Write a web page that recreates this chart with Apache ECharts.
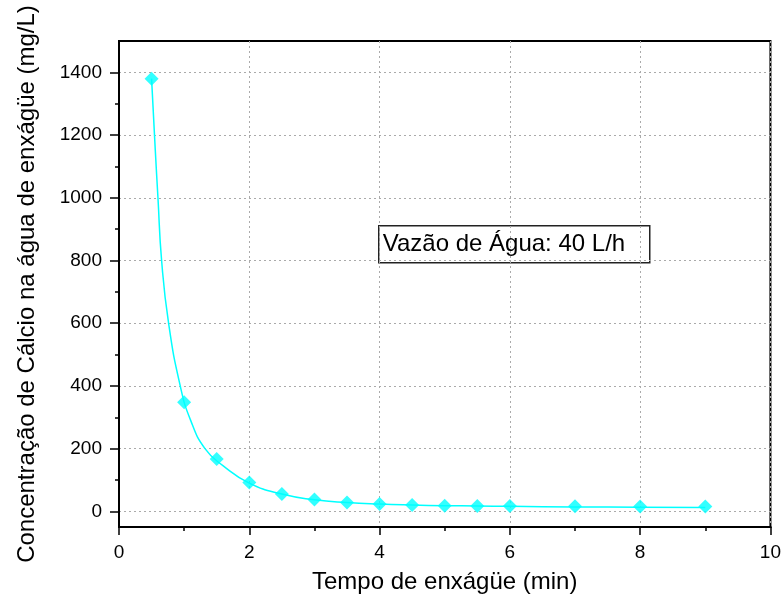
<!DOCTYPE html>
<html>
<head>
<meta charset="utf-8">
<script src="https://cdn.jsdelivr.net/npm/echarts@6/dist/echarts.min.js"></script>
<style>html,body{margin:0;padding:0;background:#fff;}#c{width:784px;height:606px;}</style>
</head>
<body>
<div id="c"></div>
<script>
// Measured points
const timeMin = [0.5, 1, 1.5, 2, 2.5, 3, 3.5, 4, 4.5, 5, 5.5, 6, 7, 8, 9];
const calcium = [1380, 348, 167, 92, 55, 38, 28, 23, 20, 18, 17, 17, 16, 15, 15];
// Fitted curve, points
const fitX = [0.5, 0.557, 0.598, 0.654, 0.761, 0.94, 1.1, 1.32, 1.6, 2, 2.5, 3, 3.5, 4, 4.5, 5, 5.5, 6, 7, 8, 9];
const fitY = [1380, 1152, 1000, 800, 600, 400, 290, 200, 145, 90, 55, 37, 28, 23, 20, 18, 17, 16, 14, 13, 12];
// Tick values
const yMajor = [0, 200, 400, 600, 800, 1000, 1200, 1400];
const yMinor = [100, 300, 500, 700, 900, 1100, 1300];
const xMajor = [0, 2, 4, 6, 8, 10];
const xMinor = [1, 3, 5, 7, 9];
const annotation = 'Vazão de Água: 40 L/h';

const FONT = '"Liberation Sans", Arial, Helvetica, sans-serif';
const chart = echarts.init(document.getElementById('c'), null, {renderer: 'canvas'});
const axisLine = {show: true, onZero: false, lineStyle: {color: '#000', width: 2}};
const plain = v => String(v);
chart.setOption({
  animation: false,
  backgroundColor: '#fff',
  grid: {left: 119, right: 13, top: 41, bottom: 79, show: true, borderColor: '#000', borderWidth: 2, containLabel: false},
  xAxis: [
    {
      type: 'value', min: 0, max: 10, interval: 2, position: 'bottom',
      axisLine: axisLine,
      axisTick: {show: true, inside: false, length: 8, customValues: xMajor, lineStyle: {color: '#000', width: 1.5}},
      axisLabel: {customValues: xMajor, margin: 16, fontSize: 19, color: '#000', fontFamily: FONT, formatter: plain},
      splitLine: {show: true, lineStyle: {color: '#aaa', type: [2, 3], width: 1}},
      name: 'Tempo de enxágüe (min)', nameLocation: 'middle', nameGap: 43,
      nameTextStyle: {fontSize: 24, color: '#000', fontFamily: FONT}
    },
    {
      type: 'value', min: 0, max: 10, interval: 1, position: 'bottom',
      axisLine: axisLine,
      axisTick: {show: true, inside: false, length: 4, customValues: xMinor, lineStyle: {color: '#000', width: 1.5}},
      axisLabel: {show: false},
      splitLine: {show: false}
    }
  ],
  yAxis: [
    {
      type: 'value', min: -50, max: 1500, interval: 50, position: 'left',
      axisLine: axisLine,
      axisTick: {show: true, inside: false, length: 9, customValues: yMajor, lineStyle: {color: '#000', width: 1.5}},
      axisLabel: {customValues: yMajor, margin: 17, fontSize: 19, color: '#000', fontFamily: FONT, formatter: plain},
      splitLine: {show: true, lineStyle: {color: '#aaa', type: [2, 3], width: 1}},
      name: 'Concentração de Cálcio na água de enxágüe (mg/L)', nameLocation: 'middle', nameGap: 80,
      nameTextStyle: {fontSize: 24, color: '#000', fontFamily: FONT}
    },
    {
      type: 'value', min: -50, max: 1500, interval: 50, position: 'left',
      axisLine: axisLine,
      axisTick: {show: true, inside: false, length: 4, customValues: yMinor, lineStyle: {color: '#000', width: 1.5}},
      axisLabel: {show: false},
      splitLine: {show: false}
    }
  ],
  series: [
    {
      type: 'line', xAxisIndex: 0, yAxisIndex: 0,
      data: fitX.map((x, i) => [x, fitY[i]]),
      showSymbol: false, symbol: 'none', smooth: 0.5,
      lineStyle: {color: '#00FFFF', width: 1.5}, z: 3
    },
    {
      type: 'scatter', xAxisIndex: 0, yAxisIndex: 0,
      data: timeMin.map((x, i) => [x, calcium[i]]),
      symbol: 'diamond', symbolSize: 14,
      itemStyle: {color: '#00FFFF'}, z: 4
    }
  ],
  graphic: [
    {
      type: 'group', left: 378, top: 225, z: 100,
      children: [
        {type: 'rect', shape: {x: 0, y: 0, width: 271, height: 37}, style: {fill: '#fff', stroke: '#222', lineWidth: 1.5}},
        {type: 'text', x: 4, y: 19, style: {text: annotation, font: '24px ' + FONT, fill: '#000', verticalAlign: 'middle'}}
      ]
    }
  ]
});
</script>
</body>
</html>
